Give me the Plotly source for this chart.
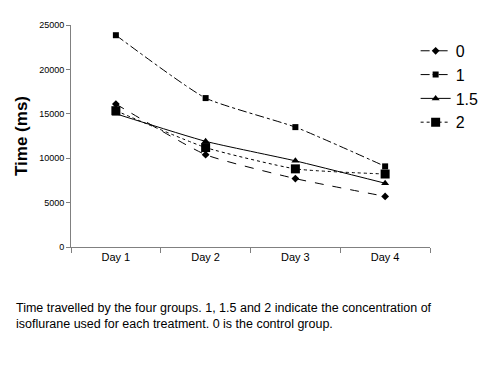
import plotly.graph_objects as go

days = ["Day 1", "Day 2", "Day 3", "Day 4"]
g0 = [16100, 10400, 7700, 5700]
g1 = [23850, 16770, 13500, 9080]
g15 = [15000, 11900, 9700, 7180]
g2 = [15350, 11200, 8800, 8220]
names = ["0", "1", "1.5", "2"]
y_ticks = [0, 5000, 10000, 15000, 20000, 25000]
y_labels = ["0", "5000", "10000", "15000", "20000", "25000"]

fig = go.Figure()
styles = [
    (g0, "dash", "diamond", 6),
    (g1, "dashdot", "square", 6),
    (g15, "solid", "triangle-up", 7),
    (g2, "dot", "square", 9),
]
for name, (vals, dash, sym, sz) in zip(names, styles):
    fig.add_trace(go.Scatter(
        x=days, y=vals, name=name, mode="lines+markers",
        line=dict(color="black", width=1, dash=dash, shape="spline", smoothing=0.5),
        marker=dict(symbol=sym, size=sz, color="black"),
    ))

fig.update_layout(
    width=492, height=367,
    margin=dict(l=60, r=70, t=15, b=128),
    paper_bgcolor="white", plot_bgcolor="white",
    font=dict(family="Liberation Sans, Arial, sans-serif", color="black"),
    legend=dict(x=0.96, y=0.96, xanchor="left", yanchor="top",
                font=dict(size=16, family="Liberation Sans Narrow, Liberation Sans, sans-serif"),
                bgcolor="rgba(0,0,0,0)", tracegroupgap=0, itemwidth=30),
    showlegend=True,
)
fig.update_xaxes(
    type="category", range=[-0.5, 3.5], showline=True, linecolor="#808080", linewidth=1,
    ticks="outside", tickson="boundaries", ticklen=5, tickcolor="#808080",
    tickfont=dict(size=11, family="Liberation Sans, Arial, sans-serif"), showgrid=False, zeroline=False,
)
fig.update_yaxes(
    range=[0, 25000], tickvals=y_ticks, ticktext=y_labels, showline=True, linecolor="#808080", linewidth=1,
    ticks="outside", ticklen=4, tickcolor="#808080",
    tickfont=dict(size=9, family="Liberation Sans Narrow, Liberation Sans, sans-serif"),
    showgrid=False, zeroline=False,
    title=dict(text="<b>Time (ms)</b>", font=dict(size=17, family="Liberation Sans, Arial, sans-serif"), standoff=7),
)
fig.add_annotation(
    xref="paper", yref="paper", x=-0.16, y=-0.232, xanchor="left", yanchor="top", align="left",
    showarrow=False,
    text="Time travelled by the four groups. 1, 1.5 and 2 indicate the concentration of<br>isoflurane used for each treatment. 0 is the control group.",
    font=dict(size=12.5, family="Liberation Sans, Arial, sans-serif"),
)
fig.write_html("out.html")
